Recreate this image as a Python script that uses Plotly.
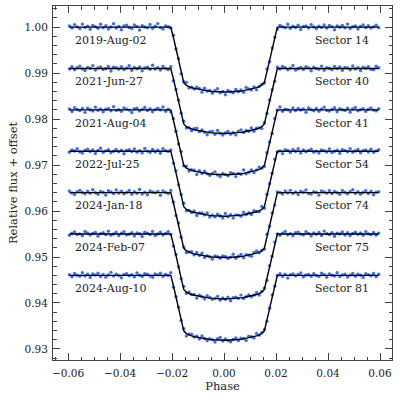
import plotly.graph_objects as go

# Phase grid in units of 1e-4
PHASE_E4 = [
    -595, -585, -575, -565, -555, -545, -535, -525, -515, -505,
    -495, -485, -475, -465, -455, -445, -435, -425, -415, -405,
    -395, -385, -375, -365, -355, -345, -335, -325, -315, -305,
    -295, -285, -275, -265, -255, -245, -235, -225, -215, -205,
    -195, -185, -175, -165, -155, -145, -135, -125, -115, -105,
    -95, -85, -75, -65, -55, -45, -35, -25, -15, -5,
    5, 15, 25, 35, 45, 55, 65, 75, 85, 95,
    105, 115, 125, 135, 145, 155, 165, 175, 185, 195,
    205, 215, 225, 235, 245, 255, 265, 275, 285, 295,
    305, 315, 325, 335, 345, 355, 365, 375, 385, 395,
    405, 415, 425, 435, 445, 455, 465, 475, 485, 495,
    505, 515, 525, 535, 545, 555, 565, 575, 585, 595,
]

# Transit model depth (units of 1e-5) read at each phase grid point
MODEL_DEPTH_E5 = [
    0, 0, 0, 0, 0, 0, 0, 0, 0, 0,
    0, 0, 0, 0, 0, 0, 0, 0, 0, 0,
    0, 0, 0, 0, 0, 0, 0, 0, 0, 0,
    0, 0, 0, 0, 0, 0, 0, 0, 0, 0,
    220, 470, 720, 960, 1205, 1265, 1295, 1315, 1332, 1345,
    1358, 1370, 1380, 1388, 1395, 1400, 1405, 1408, 1410, 1412,
    1412, 1410, 1408, 1405, 1400, 1395, 1388, 1380, 1370, 1358,
    1345, 1332, 1315, 1295, 1265, 1205, 960, 720, 470, 220,
    0, 0, 0, 0, 0, 0, 0, 0, 0, 0,
    0, 0, 0, 0, 0, 0, 0, 0, 0, 0,
    0, 0, 0, 0, 0, 0, 0, 0, 0, 0,
    0, 0, 0, 0, 0, 0, 0, 0, 0, 0,
]

SECTORS = ["Sector 14", "Sector 40", "Sector 41", "Sector 54", "Sector 74", "Sector 75", "Sector 81"]
DATES = ["2019-Aug-02", "2021-Jun-27", "2021-Aug-04", "2022-Jul-25", "2024-Jan-18", "2024-Feb-07", "2024-Aug-10"]
BASELINES = [1.000, 0.991, 0.982, 0.973, 0.964, 0.955, 0.946]

# Scatter of the data points about the model (units of RESID_UNIT)
RESID_UNIT = 2.2e-5
RESID_S14 = [
    12, -8, 25, 3, -15, 30, -4, 9, -22, 17,
    5, -11, 28, -6, 14, -19, 2, 33, -9, 7,
    -25, 11, 19, -3, -14, 22, 6, -28, 15, 1,
    -7, 26, -12, 9, 35, -5, -18, 13, 4, -10,
    21, -2, 16, -24, 8, 29, -13, 3, -6, 18,
    10, -20, 24, -1, 7, -16, 12, 31, -8, 5,
    -27, 14, 2, -11, 20, -4, 9, -17, 27, 6,
    -9, 15, -21, 3, 11, -5, 23, -14, 8, 1,
    -19, 17, 4, -7, 28, -12, 10, -3, 19, -23,
    6, 13, -8, 25, 2, -15, 9, -4, 21, -10,
    16, 5, -26, 12, -1, 18, -7, 30, -13, 4,
    11, -18, 7, 22, -5, 14, -9, 3, 20, -6,
]
RESID_S40 = [
    -5, 18, -12, 7, 24, -3, -20, 11, 2, 29,
    -14, 6, 16, -9, -1, 21, -25, 13, 8, -6,
    19, -11, 4, 27, -17, 10, -2, 15, -23, 5,
    12, -8, 32, -4, 9, -15, 20, 1, -10, 17,
    -21, 7, 14, -5, 26, -13, 3, -18, 11, 22,
    -7, 16, -2, -24, 9, 13, -11, 28, 0, -16,
    6, 19, -9, 4, -20, 15, 23, -6, 10, -3,
    25, -14, 8, 2, -19, 12, -8, 17, 5, -27,
    14, -4, 21, 9, -12, 3, 30, -15, -2, 11,
    -9, 18, 6, -22, 13, 1, -7, 24, -16, 8,
    3, -11, 20, -1, 15, -18, 10, 5, -13, 26,
    -4, 9, -20, 14, 2, 17, -8, -12, 22, 7,
]
RESID_S41 = [
    9, -16, 22, 4, -7, 14, -24, 18, 1, -11,
    27, -3, 10, -19, 6, 15, -9, 31, -5, 2,
    -13, 20, 8, -2, -26, 12, 17, -10, 5, 24,
    -6, 11, -18, 3, 16, -1, 29, -14, 7, -21,
    13, 2, -9, 25, -4, 19, -16, 6, 10, -28,
    15, -7, 21, 0, -12, 8, 26, -3, -19, 14,
    4, -10, 18, 11, -23, 7, -5, 33, -8, 1,
    17, -15, 5, 23, -2, -11, 12, 9, -20, 16,
    -4, 28, -13, 6, 2, -17, 20, -7, 14, -1,
    10, -24, 19, 3, -9, 15, -14, 8, 27, -6,
    -12, 5, 22, -18, 11, 1, -5, 17, -22, 9,
    24, -8, 3, 13, -15, 6, 19, -2, -10, 12,
]
RESID_S54 = [
    -10, 14, 3, 26, -6, -18, 9, 21, -2, 12,
    -22, 7, 30, -11, 4, 16, -14, 1, 19, -5,
    11, -25, 8, 15, -3, 23, -9, 5, -16, 28,
    2, -12, 18, -7, 10, -20, 25, 6, -1, 13,
    -17, 20, -4, 9, 34, -13, 3, -8, 16, -24,
    7, 12, -2, 22, -15, 5, -10, 18, 1, -19,
    27, -6, 14, -21, 8, 3, -11, 24, -4, 10,
    -14, 17, 2, -9, 29, -16, 11, 6, -3, 21,
    -7, 4, -23, 15, 9, -12, 19, -1, 26, -18,
    13, -5, 8, 20, -10, 2, -17, 14, 5, -8,
    22, -13, 1, 11, -20, 16, 7, -4, 25, -9,
    3, 18, -14, 6, 12, -7, 21, -11, 4, 15,
]
RESID_S74 = [
    17, -4, -19, 10, 23, 2, -12, 15, -7, 28,
    -1, -16, 12, 5, -23, 19, 8, -9, 26, -3,
    14, -11, 3, 21, -17, 9, -6, 31, -14, 4,
    -20, 16, 7, -2, 12, -25, 18, 1, -8, 22,
    6, -13, 27, -5, 10, -18, 3, 15, -10, 20,
    -3, 24, -15, 8, 1, -21, 13, 6, -7, 17,
    11, -9, 2, 29, -12, 5, 19, -16, 9, -2,
    -18, 14, 21, -6, 3, -11, 25, -4, 12, -22,
    8, 1, -14, 18, -3, 23, -9, 6, -19, 15,
    4, 26, -8, -13, 10, 2, -24, 16, 7, -5,
    19, -10, 13, -1, -17, 22, 4, -12, 11, 28,
    -6, 9, -15, 3, 20, -8, 14, -20, 5, 10,
]
RESID_S75 = [
    -13, 8, 20, -4, 2, -17, 25, 10, -9, 6,
    16, -21, 4, 13, -6, 28, -11, 1, 19, -15,
    7, 23, -8, -2, 14, -19, 11, 3, -24, 17,
    9, -5, 26, -14, 1, 18, -10, 6, 22, -3,
    -18, 12, 5, -7, 30, -12, 15, -1, 8, -22,
    13, 3, -16, 21, 6, -9, 2, 24, -13, 10,
    -4, 17, -20, 8, 12, -2, 27, -11, 4, 15,
    -8, 1, 19, -15, 7, 11, -23, 14, -5, 20,
    2, -12, 9, 25, -7, 4, -17, 13, 18, -1,
    -10, 22, 6, -19, 11, -3, 16, -14, 29, 3,
    -6, 14, -22, 7, 1, 20, -9, 12, -16, 5,
    18, -3, 10, -13, 24, 2, -8, 15, -11, 9,
]
RESID_S81 = [
    6, -14, 19, 1, -9, 27, -5, 12, -20, 15,
    3, 22, -11, 8, -17, 4, 30, -7, 13, -2,
    -23, 10, 16, -4, 7, -15, 24, 2, -10, 18,
    11, -6, -19, 14, 5, 21, -12, 9, -1, 26,
    -16, 3, 12, -8, 20, -25, 7, 17, -3, 10,
    -11, 23, 4, -14, 9, 1, -20, 15, 28, -6,
    13, -2, -17, 6, 19, -9, 11, 3, -22, 16,
    5, -13, 25, -4, 8, 14, -18, 2, 21, -7,
    -1, 17, -10, 12, -26, 6, 15, -5, 9, 24,
    -15, 4, 10, -8, 18, -2, -12, 22, 7, -19,
    14, 1, -6, 27, -11, 5, 13, -16, 3, 20,
    -9, 11, 2, -21, 16, 8, -4, 19, -13, 12,
]
RESIDUALS = [RESID_S14, RESID_S40, RESID_S41, RESID_S54, RESID_S74, RESID_S75, RESID_S81]

X_TICKS = [-0.06, -0.04, -0.02, 0.00, 0.02, 0.04, 0.06]
Y_TICKS = [0.93, 0.94, 0.95, 0.96, 0.97, 0.98, 0.99, 1.00]

FONT = "DejaVu Serif"
phase = [p * 1e-4 for p in PHASE_E4]

fig = go.Figure()
for base, resid in zip(BASELINES, RESIDUALS):
    model = [base - d * 1e-5 for d in MODEL_DEPTH_E5]
    data = [m + r * RESID_UNIT for m, r in zip(model, resid)]
    fig.add_trace(go.Scatter(
        x=phase, y=data, mode="markers",
        marker=dict(color="#3f6ff0", size=3.4, line=dict(width=0)),
        showlegend=False, hoverinfo="skip"))
    fig.add_trace(go.Scatter(
        x=phase, y=model, mode="lines",
        line=dict(color="#000000", width=1.4),
        showlegend=False, hoverinfo="skip"))

for base, date, sector in zip(BASELINES, DATES, SECTORS):
    fig.add_annotation(x=-0.0581, y=base - 0.0029, text=date, showarrow=False,
                       xanchor="left", yanchor="middle",
                       font=dict(family=FONT, size=11, color="#222"))
    fig.add_annotation(x=0.0564, y=base - 0.0029, text=sector, showarrow=False,
                       xanchor="right", yanchor="middle",
                       font=dict(family=FONT, size=11, color="#222"))

axis_common = dict(
    showgrid=False, zeroline=False, showline=True, linecolor="#444", linewidth=1,
    mirror="ticks", ticks="inside", tickcolor="#444", tickwidth=1, ticklen=7,
    tickfont=dict(family=FONT, size=10.5, color="#222"), automargin=False,
)
fig.update_xaxes(range=[-0.0658, 0.0646], tickvals=X_TICKS, tickformat=".2f",
                 minor=dict(dtick=0.005, tick0=0, ticks="inside", ticklen=3.5, tickcolor="#444"),
                 title=dict(text="Phase", font=dict(family=FONT, size=11.5, color="#222"), standoff=4),
                 ticklabelstandoff=3, **axis_common)
fig.update_yaxes(range=[0.9276, 1.0046], tickvals=Y_TICKS, tickformat=".2f",
                 minor=dict(dtick=0.002, tick0=0.93, ticks="inside", ticklen=3.5, tickcolor="#444"),
                 title=dict(text="Relative flux + offset", font=dict(family=FONT, size=11.5, color="#222"), standoff=4),
                 ticklabelstandoff=2, **axis_common)
fig.update_layout(width=400, height=400, margin=dict(l=53, r=8, t=6, b=40),
                  paper_bgcolor="white", plot_bgcolor="white")
fig.write_html("out.html", config={"displayModeBar": False},
               post_script="document.body.style.margin='0px';")
